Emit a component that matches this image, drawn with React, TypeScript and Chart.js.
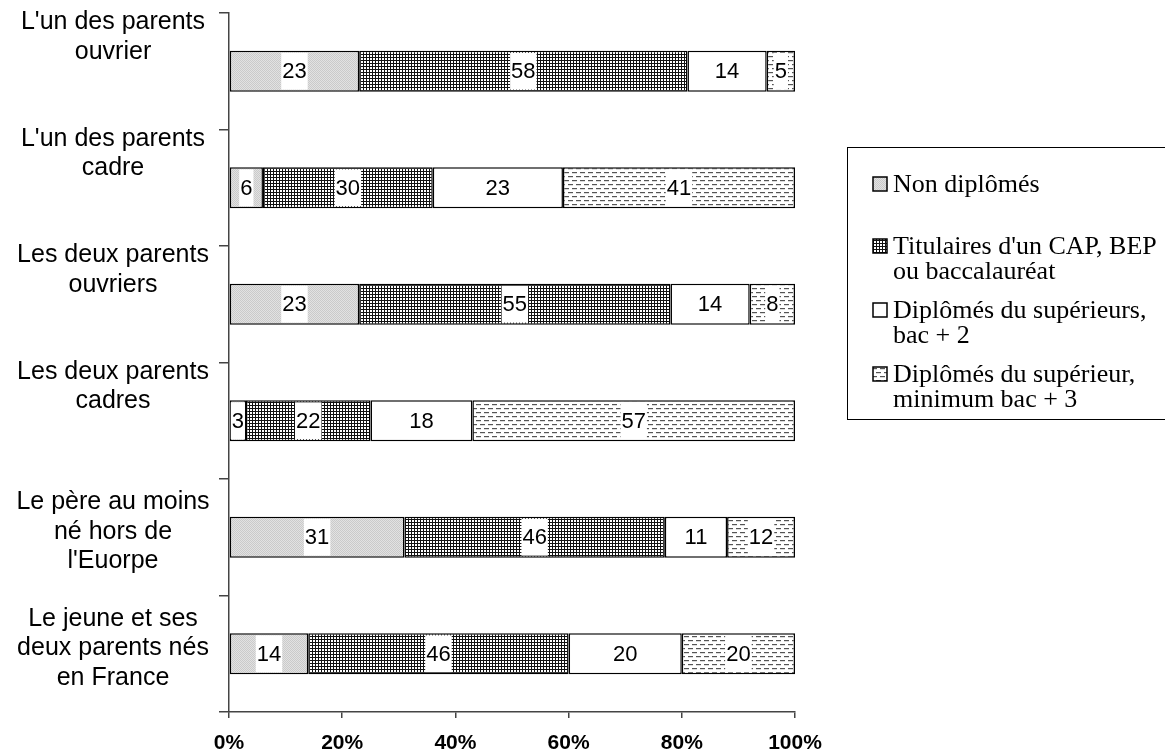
import React, { useEffect, useRef } from "react";
import { Chart, registerables } from "chart.js";

Chart.register(...registerables);

const categories: string[][] = [
  ["L'un des parents", "ouvrier"],
  ["L'un des parents", "cadre"],
  ["Les deux parents", "ouvriers"],
  ["Les deux parents", "cadres"],
  ["Le père au moins", "né hors de", "l'Euorpe"],
  ["Le jeune et ses", "deux parents nés", "en France"],
];

const nonDiplomes = [23, 6, 23, 3, 31, 14];
const capBepBac = [58, 30, 55, 22, 46, 46];
const supBac2 = [14, 23, 14, 18, 11, 20];
const supBac3 = [5, 41, 8, 57, 12, 20];

const seriesLabels: string[][] = [
  ["Non diplômés"],
  ["Titulaires d'un CAP, BEP", "ou baccalauréat"],
  ["Diplômés du supérieurs,", "bac + 2"],
  ["Diplômés du supérieur,", "minimum bac + 3"],
];

const xTickValues = [0, 20, 40, 60, 80, 100];

function makePattern(kind: number): CanvasPattern | string {
  const c = document.createElement("canvas");
  const g = c.getContext("2d")!;
  if (kind === 0) {
    c.width = 2; c.height = 2;
    g.fillStyle = "#e2e2e2"; g.fillRect(0, 0, 2, 2);
    g.fillStyle = "#cacaca"; g.fillRect(0, 0, 1, 1); g.fillRect(1, 1, 1, 1);
  } else if (kind === 1) {
    c.width = 3; c.height = 3;
    g.fillStyle = "#ffffff"; g.fillRect(0, 0, 3, 3);
    g.fillStyle = "#111111"; g.fillRect(0, 0, 3, 1); g.fillRect(0, 0, 1, 3);
  } else if (kind === 2) {
    return "#ffffff";
  } else {
    c.width = 8; c.height = 8;
    g.fillStyle = "#ffffff"; g.fillRect(0, 0, 8, 8);
    g.fillStyle = "#555555";
    g.fillRect(0, 0, 5, 1);
    g.fillRect(4, 4, 4, 1); g.fillRect(0, 4, 1, 1);
    g.fillStyle = "#dddddd";
    g.fillRect(0, 1, 5, 1);
    g.fillRect(4, 5, 4, 1); g.fillRect(0, 5, 1, 1);
  }
  return g.createPattern(c, "repeat")!;
}

export default function App() {
  const ref = useRef<HTMLCanvasElement>(null);

  useEffect(() => {
    const fills = [0, 1, 2, 3].map((k) => makePattern(k));
    const seriesValues = [nonDiplomes, capBepBac, supBac2, supBac3];

    const labelPlugin = {
      id: "segLabels",
      afterDatasetsDraw(chart: any) {
        const ctx = chart.ctx;
        ctx.save();
        ctx.font = '22px "Liberation Sans", Arial, sans-serif';
        ctx.textAlign = "center";
        ctx.textBaseline = "middle";
        chart.data.datasets.forEach((ds: any, di: number) => {
          const meta = chart.getDatasetMeta(di);
          meta.data.forEach((el: any, i: number) => {
            const v = ds.data[i];
            const txt = String(v);
            const cx = (el.x + el.base) / 2;
            const cy = el.y;
            const w = ctx.measureText(txt).width;
            ctx.fillStyle = "#ffffff";
            ctx.fillRect(cx - w / 2 - 1, cy - el.height / 2 + 2, w + 2, el.height - 4);
            ctx.fillStyle = "#000000";
            ctx.fillText(txt, cx, cy + 1);
          });
        });
        ctx.restore();
      },
    };

    const categoryLabelPlugin = {
      id: "catLabels",
      afterDraw(chart: any) {
        const ctx = chart.ctx;
        const ys = chart.scales.y;
        ctx.save();
        ctx.font = '25px "Liberation Sans", Arial, sans-serif';
        ctx.textAlign = "center";
        ctx.textBaseline = "middle";
        ctx.fillStyle = "#000";
        categories.forEach((lines, i) => {
          const cy = ys.getPixelForValue(i);
          const n = lines.length;
          const first = cy - 49 + 14 * (n - 2);
          lines.forEach((ln, j) => {
            ctx.fillText(ln, 113, first + j * 29.5);
          });
        });
        ctx.restore();
      },
    };

    const legendPlugin = {
      id: "boxLegend",
      afterDraw(chart: any) {
        const ctx = chart.ctx;
        ctx.save();
        ctx.strokeStyle = "#000000";
        ctx.lineWidth = 1;
        ctx.strokeRect(847.5, 147.5, 340, 272);
        const baselines = [192, 254, 318, 382];
        ctx.font = '26px "Liberation Serif", "Times New Roman", serif';
        ctx.textAlign = "left";
        ctx.textBaseline = "alphabetic";
        seriesLabels.forEach((lines, i) => {
          const b = baselines[i];
          ctx.fillStyle = fills[i] as any;
          ctx.fillRect(873, b - 15, 14, 14);
          ctx.strokeStyle = "#000";
          ctx.lineWidth = 1.5;
          ctx.strokeRect(873, b - 15, 14, 14);
          ctx.fillStyle = "#000";
          lines.forEach((ln, j) => {
            ctx.fillText(ln, 893, b + j * 25);
          });
        });
        ctx.restore();
      },
    };

    const chart = new Chart(ref.current!, {
      type: "bar",
      data: {
        labels: categories.map((c) => c.join(" ")),
        datasets: seriesValues.map((vals, i) => ({
          label: seriesLabels[i].join(" "),
          data: vals,
          backgroundColor: fills[i] as any,
          borderColor: "#000000",
          borderWidth: 1.5,
          borderSkipped: false,
          barPercentage: 0.35,
          categoryPercentage: 1,
        })),
      },
      options: {
        indexAxis: "y",
        responsive: false,
        animation: false,
        devicePixelRatio: 1,
        layout: { padding: { top: 13, right: 370, bottom: 0, left: 0 } },
        plugins: {
          legend: { display: false },
          tooltip: { enabled: false },
        },
        scales: {
          x: {
            stacked: true,
            min: 0,
            max: 100,
            afterBuildTicks: (scale: any) => {
              scale.ticks = xTickValues.map((v) => ({ value: v }));
            },
            afterFit: (scale: any) => {
              scale.height = 41;
            },
            ticks: {
              callback: (v: any) => v + "%",
              color: "#000",
              font: { family: '"Liberation Sans", Arial, sans-serif', size: 21, weight: "bold" },
              padding: 13,
              maxRotation: 0,
            },
            grid: { drawOnChartArea: false, drawTicks: true, tickLength: 6, color: "#444", lineWidth: 1.5 },
            border: { display: true, color: "#444", width: 1.5 },
          },
          y: {
            stacked: true,
            afterFit: (scale: any) => {
              scale.width = 229;
              scale.paddingTop = 0;
              scale.paddingBottom = 0;
            },
            ticks: { display: false },
            grid: { offset: true, drawOnChartArea: false, drawTicks: true, tickLength: 10, color: "#444", lineWidth: 1.5 },
            border: { display: true, color: "#444", width: 1.5 },
          },
        },
      },
      plugins: [labelPlugin, categoryLabelPlugin, legendPlugin],
    });
    return () => chart.destroy();
  }, []);

  return (
    <div style={{ position: "absolute", left: 0, top: 0, width: 1165, height: 753, background: "#fff" }}>
      <canvas ref={ref} width={1165} height={753} />
    </div>
  );
}
